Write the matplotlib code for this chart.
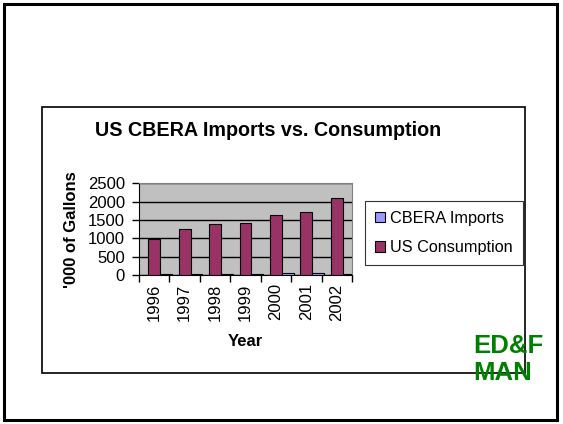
import numpy as np
import matplotlib.pyplot as plt
from matplotlib.patches import Rectangle

plt.rcParams['font.family'] = ['Liberation Sans', 'DejaVu Sans']

years = ['1996', '1997', '1998', '1999', '2000', '2001', '2002']
us_consumption = [970, 1245, 1390, 1430, 1640, 1710, 2105]
cbera_imports = [20, 25, 25, 30, 50, 45, 30]

W, H = 563, 424
fig = plt.figure(figsize=(W / 100, H / 100), dpi=100)

def fx(px):
    return px / W

def fy(py):
    return 1 - py / H

# slide border and chart border
fig.patches.append(Rectangle((fx(4), fy(420)), fx(557) - fx(4), fy(4) - fy(420),
                             transform=fig.transFigure, fill=False, lw=2.2, ec='black'))
fig.patches.append(Rectangle((fx(42), fy(373)), fx(525) - fx(42), fy(107) - fy(373),
                             transform=fig.transFigure, fill=False, lw=1.2, ec='black'))

ax = fig.add_axes([fx(139), fy(275), fx(352) - fx(139), fy(183.3) - fy(275)])
ax.set_facecolor('#C0C0C0')

x = np.arange(len(years))
w = 0.385
b1 = ax.bar(x, us_consumption, w, color='#993366', edgecolor='black', lw=0.8,
            label='US Consumption', zorder=3)
b2 = ax.bar(x + w / 2, cbera_imports, w, align='edge', color='#9999FF',
            edgecolor='black', lw=0.8, label='CBERA Imports', zorder=3)

ax.set_xlim(-0.5, len(years) - 0.5)
ax.set_ylim(0, 2500)
ax.set_yticks([0, 500, 1000, 1500, 2000, 2500])
ax.yaxis.grid(True, color='black', lw=1, zorder=1)
ax.set_axisbelow(True)

ax.set_xticks(x)
ax.set_xticklabels(years, rotation=90, fontsize=12)
ax.set_xticks(np.arange(-0.5, len(years)), minor=True)
ax.tick_params(axis='x', which='major', length=0, pad=6)
ax.tick_params(axis='x', which='minor', length=5, width=1, direction='out')
ax.tick_params(axis='y', labelsize=12, length=5, width=1, direction='out', pad=5)

for s in ['top', 'right']:
    ax.spines[s].set_color('#808080')
ax.spines['left'].set_color('black')
ax.spines['bottom'].set_color('black')

ax.set_xlabel('Year', fontsize=12, fontweight='bold', labelpad=9.5)
ax.set_ylabel("'000 of Gallons", fontsize=12, fontweight='bold', labelpad=6.7)

fig.text(fx(268), fy(131), 'US CBERA Imports vs. Consumption', fontsize=14.2,
         fontweight='bold', ha='center', va='center')

leg = fig.legend([b2, b1], ['CBERA Imports', 'US Consumption'],
                 loc='center left', bbox_to_anchor=(fx(365), fy(233)),
                 fontsize=11.7, frameon=True, fancybox=False, edgecolor='black',
                 handlelength=0.65, handleheight=0.65, handletextpad=0.3,
                 borderpad=0.6, labelspacing=0.9, borderaxespad=0)
leg.get_frame().set_linewidth(0.8)

fig.text(fx(473), fy(346), 'ED&F', fontsize=18.5, fontweight='bold', color='#008000',
         ha='left', va='center')
fig.text(fx(473), fy(373), 'MAN', fontsize=18.5, fontweight='bold', color='#008000',
         ha='left', va='center')

fig.savefig('out.png', dpi=100)
